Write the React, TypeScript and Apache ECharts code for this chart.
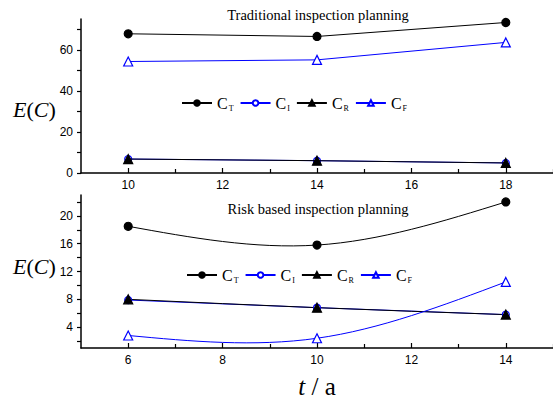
import React, { useEffect, useRef } from "react";
import * as echarts from "echarts";

// Upper panel: traditional inspection planning
const topYears = [10, 14, 18];
const topCT = [67.8, 66.5, 73.3];
const topCI = [6.8, 6.0, 4.9];
const topCR = [6.8, 6.0, 4.9];
const topCF = [54.3, 55.1, 63.6];

// Lower panel: risk based inspection planning
const botYears = [6, 10, 14];
const botCT = [18.5, 15.8, 22.0];
const botCI = [7.9, 6.8, 5.8];
const botCR = [8.0, 6.8, 5.8];
const botCF = [2.8, 2.4, 10.5];

// Tick values
const topXMajor = [10, 12, 14, 16, 18];
const topXMinor = [11, 13, 15, 17, 19];
const topYMajor = [0, 20, 40, 60];
const topYMinor = [10, 30, 50, 70];
const botXMajor = [6, 8, 10, 12, 14];
const botXMinor = [7, 9, 11, 13, 15];
const botYMajor = [4, 8, 12, 16, 20];
const botYMinor = [2, 6, 10, 14, 18, 22];

const seriesNames = ["CT", "CI", "CR", "CF"];

const SERIF = "'Liberation Serif', 'Times New Roman', serif";
const SANS = "'Liberation Sans', Arial, sans-serif";
const BLUE = "#0000ff";

const markerStyles = [
  { color: "#000", symbol: "circle", size: 8, fill: "#000" },
  { color: BLUE, symbol: "circle", size: 7, fill: "#fff" },
  { color: "#000", symbol: "triangle", size: 9, fill: "#000" },
  { color: BLUE, symbol: "triangle", size: 9, fill: "#fff" },
];

const pairs = (xs: number[], ys: number[]) => xs.map((x, i) => [x, ys[i]]);

// Slopes of a natural cubic spline at each knot.
function splineSlopes(xs: number[], ys: number[]) {
  const n = xs.length;
  const h: number[] = [];
  for (let i = 0; i < n - 1; i++) h.push(xs[i + 1] - xs[i]);
  const M = new Array(n).fill(0);
  if (n > 2) {
    // Tridiagonal solve (Thomas algorithm) for the interior second derivatives
    const a: number[] = [], b: number[] = [], c: number[] = [], d: number[] = [];
    for (let i = 1; i < n - 1; i++) {
      a.push(h[i - 1]);
      b.push(2 * (h[i - 1] + h[i]));
      c.push(h[i]);
      d.push(6 * ((ys[i + 1] - ys[i]) / h[i] - (ys[i] - ys[i - 1]) / h[i - 1]));
    }
    const m = b.length;
    for (let i = 1; i < m; i++) {
      const w = a[i] / b[i - 1];
      b[i] -= w * c[i - 1];
      d[i] -= w * d[i - 1];
    }
    const sol = new Array(m).fill(0);
    sol[m - 1] = d[m - 1] / b[m - 1];
    for (let i = m - 2; i >= 0; i--) sol[i] = (d[i] - c[i] * sol[i + 1]) / b[i];
    for (let i = 0; i < m; i++) M[i + 1] = sol[i];
  }
  const slopes: number[] = [];
  for (let i = 0; i < n - 1; i++) {
    slopes.push((ys[i + 1] - ys[i]) / h[i] - (h[i] * (2 * M[i] + M[i + 1])) / 6);
  }
  const k = n - 2;
  slopes.push((ys[n - 1] - ys[n - 2]) / h[k] + (h[k] * (M[n - 2] + 2 * M[n - 1])) / 6);
  return slopes;
}

// Spline curve through a series' points, drawn as cubic Bezier segments in pixel space.
function splineSeries(gi: number, xs: number[], ys: number[], color: string) {
  const slopes = splineSlopes(xs, ys);
  return {
    type: "custom",
    coordinateSystem: "cartesian2d",
    xAxisIndex: gi,
    yAxisIndex: gi,
    silent: true,
    z: 1,
    data: pairs(xs, ys),
    encode: { x: 0, y: 1 },
    renderItem: (params: any, api: any) => {
      if (params.dataIndex !== 0) return null;
      const p0 = api.coord([xs[0], ys[0]]);
      let d = `M${p0[0]},${p0[1]}`;
      for (let i = 0; i < xs.length - 1; i++) {
        const h = xs[i + 1] - xs[i];
        const c1 = api.coord([xs[i] + h / 3, ys[i] + (slopes[i] * h) / 3]);
        const c2 = api.coord([xs[i + 1] - h / 3, ys[i + 1] - (slopes[i + 1] * h) / 3]);
        const p = api.coord([xs[i + 1], ys[i + 1]]);
        d += ` C${c1[0]},${c1[1]} ${c2[0]},${c2[1]} ${p[0]},${p[1]}`;
      }
      return {
        type: "path",
        shape: { pathData: d },
        style: { fill: "none", stroke: color, lineWidth: 1 },
      };
    },
  };
}

function markerSeries(gi: number, xs: number[], vals: number[][], showLine: boolean) {
  return vals.map((v, i) => ({
    name: seriesNames[i],
    type: "line",
    xAxisIndex: gi,
    yAxisIndex: gi,
    data: pairs(xs, v),
    symbol: markerStyles[i].symbol,
    symbolSize: markerStyles[i].size,
    lineStyle: { color: markerStyles[i].color, width: 1, opacity: showLine ? 1 : 0 },
    itemStyle: {
      color: markerStyles[i].fill,
      borderColor: markerStyles[i].color,
      borderWidth: 1.2,
    },
    z: 2 + i,
  }));
}

function xAxisMajor(gi: number, min: number, max: number, ticks: number[]) {
  return {
    type: "value",
    gridIndex: gi,
    min,
    max,
    position: "bottom",
    axisLine: { show: true, onZero: false, lineStyle: { color: "#000", width: 1.5 } },
    axisTick: { show: true, inside: true, length: 5, customValues: ticks, lineStyle: { color: "#000", width: 1.2 } },
    axisLabel: { show: true, customValues: ticks, margin: 6, color: "#000", fontFamily: SANS, fontSize: 12 },
    splitLine: { show: false },
  };
}

function xAxisMinor(gi: number, min: number, max: number, ticks: number[]) {
  return {
    type: "value",
    gridIndex: gi,
    min,
    max,
    position: "bottom",
    axisLine: { show: false, onZero: false },
    axisTick: { show: true, inside: true, length: 4, customValues: ticks, lineStyle: { color: "#000", width: 1.2 } },
    axisLabel: { show: false },
    splitLine: { show: false },
  };
}

function yAxisMajor(gi: number, min: number, max: number, ticks: number[]) {
  return {
    type: "value",
    gridIndex: gi,
    min,
    max,
    position: "left",
    axisLine: { show: true, onZero: false, lineStyle: { color: "#000", width: 1.5 } },
    axisTick: { show: true, inside: false, length: 4, customValues: ticks, lineStyle: { color: "#000", width: 1.2 } },
    axisLabel: { show: true, customValues: ticks, margin: 8, color: "#000", fontFamily: SANS, fontSize: 12 },
    splitLine: { show: false },
  };
}

function yAxisMinor(gi: number, min: number, max: number, ticks: number[]) {
  return {
    type: "value",
    gridIndex: gi,
    min,
    max,
    position: "left",
    axisLine: { show: false, onZero: false },
    axisTick: { show: true, inside: false, length: 4, customValues: ticks, lineStyle: { color: "#000", width: 1.2 } },
    axisLabel: { show: false },
    splitLine: { show: false },
  };
}

const legendRich = {
  c: { fontFamily: SERIF, fontSize: 16, color: "#000" },
  s: { fontFamily: SERIF, fontSize: 8, color: "#000", padding: [10, 0, 0, 1] },
};

function makeLegend(left: number, top: number) {
  return {
    left,
    top,
    padding: 0,
    orient: "horizontal",
    data: seriesNames,
    itemWidth: 30,
    itemHeight: 7,
    itemGap: 6,
    selectedMode: false,
    formatter: (name: string) => `{c|C}{s|${name.slice(1)}}`,
    textStyle: { rich: legendRich },
  };
}

const ecLabelRich = {
  i: { fontFamily: SERIF, fontSize: 22, fontStyle: "italic", color: "#000" },
  r: { fontFamily: SERIF, fontSize: 22, color: "#000" },
};

const timeLabelRich = {
  i: { fontFamily: SERIF, fontSize: 25, fontStyle: "italic", color: "#000", lineHeight: 22 },
  r: { fontFamily: SERIF, fontSize: 25, color: "#000", lineHeight: 22 },
};

export default function App() {
  const ref = useRef<HTMLDivElement>(null);

  useEffect(() => {
    if (!ref.current) return;
    const chart = echarts.init(ref.current, null, { renderer: "svg" });
    chart.setOption({
      animation: false,
      backgroundColor: "#fff",
      title: [
        {
          text: "Traditional inspection planning",
          left: 318,
          top: 7,
          padding: 0,
          textAlign: "center",
          textStyle: { fontFamily: SERIF, fontSize: 14.5, fontWeight: "normal", color: "#000" },
        },
        {
          text: "Risk based inspection planning",
          left: 318,
          top: 201,
          padding: 0,
          textAlign: "center",
          textStyle: { fontFamily: SERIF, fontSize: 14.5, fontWeight: "normal", color: "#000" },
        },
      ],
      legend: [makeLegend(181, 95), makeLegend(186, 267)],
      grid: [
        { left: 81, right: 0, top: 19, height: 154, outerBoundsMode: "none", containLabel: false },
        { left: 81, right: 0, top: 195, height: 153, outerBoundsMode: "none", containLabel: false },
      ],
      xAxis: [
        xAxisMajor(0, 9, 19, topXMajor),
        xAxisMajor(1, 5, 15, botXMajor),
        xAxisMinor(0, 9, 19, topXMinor),
        xAxisMinor(1, 5, 15, botXMinor),
      ],
      yAxis: [
        yAxisMajor(0, 0, 75, topYMajor),
        yAxisMajor(1, 1, 23, botYMajor),
        yAxisMinor(0, 0, 75, topYMinor),
        yAxisMinor(1, 1, 23, botYMinor),
      ],
      graphic: [
        {
          type: "text",
          left: 13,
          top: 98,
          style: { text: "{i|E}{r|(}{i|C}{r|)}", rich: ecLabelRich },
        },
        {
          type: "text",
          left: 13,
          top: 255,
          style: { text: "{i|E}{r|(}{i|C}{r|)}", rich: ecLabelRich },
        },
        {
          type: "text",
          x: 317,
          y: 386,
          style: {
            text: "{i|t}{r| / a}",
            rich: timeLabelRich,
            align: "center",
            verticalAlign: "middle",
          },
        },
      ],
      series: [
        ...markerSeries(0, topYears, [topCT, topCI, topCR, topCF], true),
        splineSeries(1, botYears, botCT, "#000"),
        splineSeries(1, botYears, botCI, BLUE),
        splineSeries(1, botYears, botCR, "#000"),
        splineSeries(1, botYears, botCF, BLUE),
        ...markerSeries(1, botYears, [botCT, botCI, botCR, botCF], false),
      ],
    });
    return () => chart.dispose();
  }, []);

  return (
    <div
      ref={ref}
      style={{ position: "absolute", left: 0, top: 0, width: 553, height: 400, background: "#fff" }}
    />
  );
}
